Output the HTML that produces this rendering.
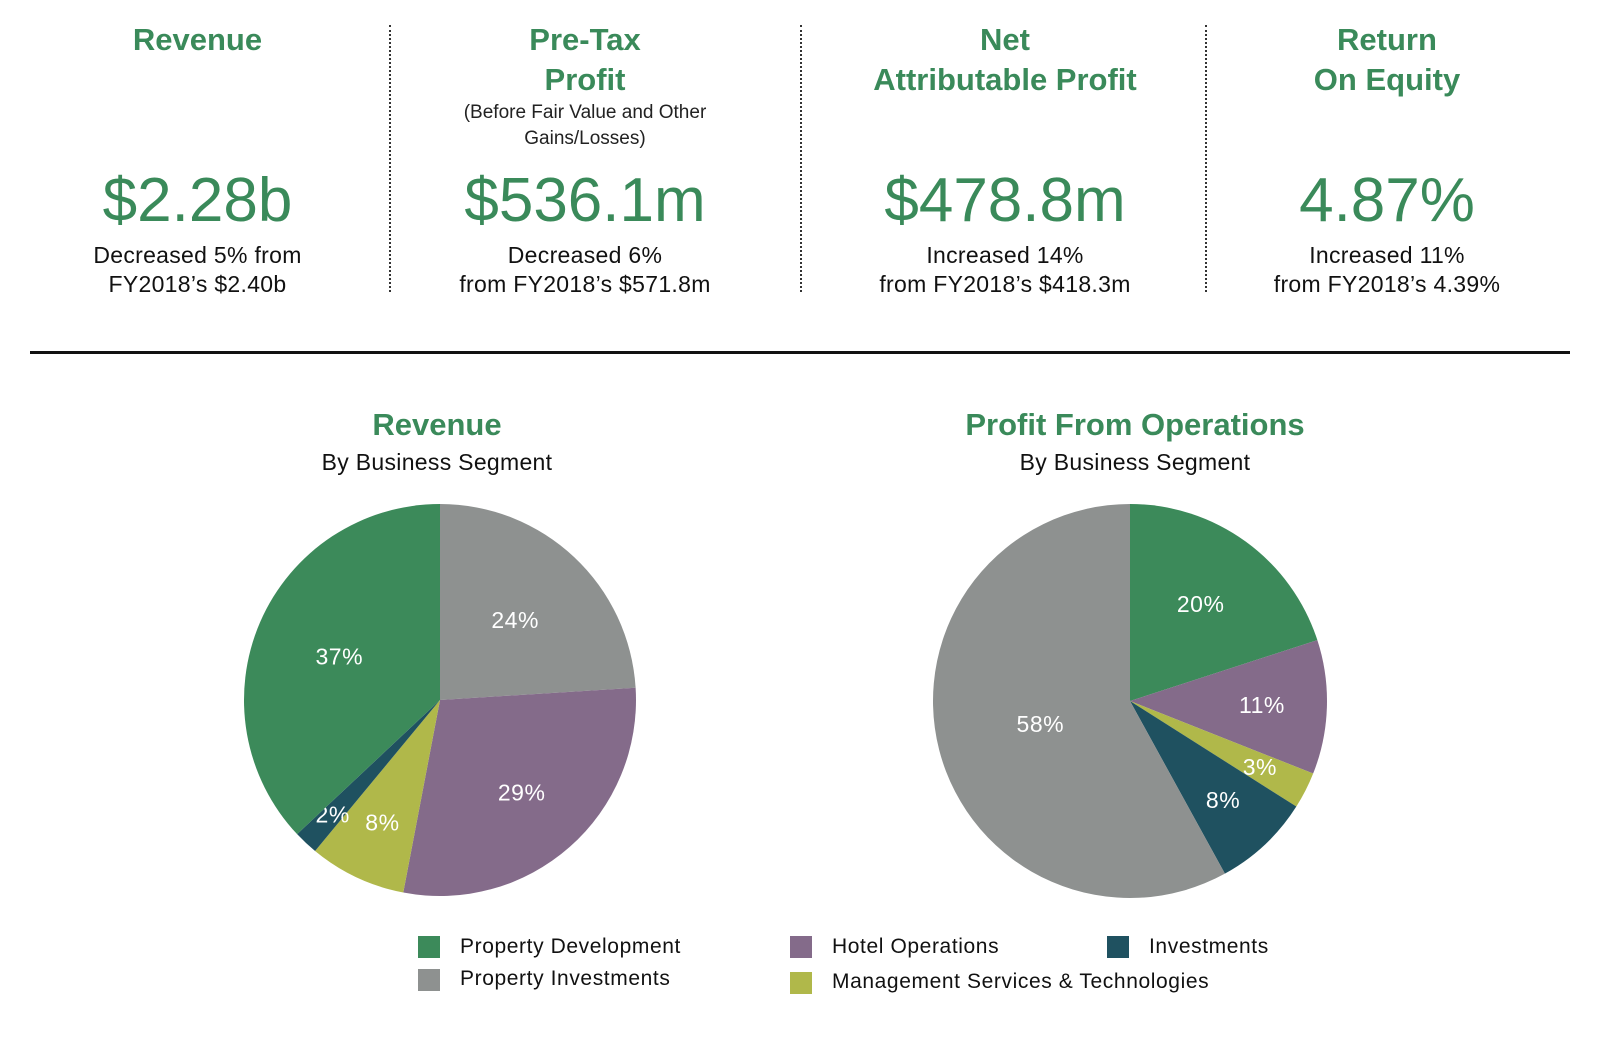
<!DOCTYPE html>
<html><head><meta charset="utf-8"><style>
body{margin:0;width:1600px;height:1039px;background:#fff;font-family:"Liberation Sans",sans-serif;position:relative;overflow:hidden}
.k{position:absolute;text-align:center;color:#3a8a5a}
.t{font-weight:bold;font-size:31px;line-height:40px}
.s{color:#222;font-size:19px;line-height:26px}
.v{font-size:62px;line-height:70px;position:absolute;left:0;right:0;top:146px}
.d{color:#111;font-size:23px;line-height:29px;position:absolute;left:0;right:0;top:221px;letter-spacing:.3px}
.sep{position:absolute;top:25px;height:267px;border-left:2px dotted #333}
.h{position:absolute;text-align:center;width:600px}
.leg{position:absolute;font-size:21px;color:#111;letter-spacing:.6px}
.sq{position:absolute;width:22px;height:22px}
</style></head><body>
<div class="k" style="left:0;width:395px;top:20px;height:280px"><div class="t">Revenue</div><div class="v">$2.28b</div><div class="d">Decreased 5% from<br>FY2018’s $2.40b</div></div>
<div class="k" style="left:385px;width:400px;top:20px;height:280px"><div class="t">Pre-Tax<br>Profit</div><div class="s">(Before Fair Value and Other<br>Gains/Losses)</div><div class="v">$536.1m</div><div class="d">Decreased 6%<br>from FY2018’s $571.8m</div></div>
<div class="k" style="left:805px;width:400px;top:20px;height:280px"><div class="t">Net<br>Attributable Profit</div><div class="v">$478.8m</div><div class="d">Increased 14%<br>from FY2018’s $418.3m</div></div>
<div class="k" style="left:1187px;width:400px;top:20px;height:280px"><div class="t">Return<br>On Equity</div><div class="v">4.87%</div><div class="d">Increased 11%<br>from FY2018’s 4.39%</div></div>
<div class="sep" style="left:389px"></div>
<div class="sep" style="left:800px"></div>
<div class="sep" style="left:1205px"></div>
<div style="position:absolute;left:30px;width:1540px;top:351px;border-top:3px solid #111"></div>
<div class="h" style="left:137px;top:405px"><div style="color:#3a8a5a;font-weight:bold;font-size:31px;line-height:40px">Revenue</div><div style="font-size:23px;color:#111;margin-top:4px;letter-spacing:.3px">By Business Segment</div></div>
<div class="h" style="left:835px;top:405px"><div style="color:#3a8a5a;font-weight:bold;font-size:31px;line-height:40px">Profit From Operations</div><div style="font-size:23px;color:#111;margin-top:4px;letter-spacing:.3px">By Business Segment</div></div>
<svg id="svg" width="1600" height="1039" style="position:absolute;left:0;top:0"></svg>
<div class="sq" style="left:418px;top:936px;background:#3c8a5a"></div><div class="leg" style="left:460px;top:935px">Property Development</div>
<div class="sq" style="left:418px;top:969px;background:#8e9190"></div><div class="leg" style="left:460px;top:967px">Property Investments</div>
<div class="sq" style="left:790px;top:936px;background:#846b8a"></div><div class="leg" style="left:832px;top:935px">Hotel Operations</div>
<div class="sq" style="left:790px;top:972px;background:#b0b84a"></div><div class="leg" style="left:832px;top:970px">Management Services &amp; Technologies</div>
<div class="sq" style="left:1107px;top:936px;background:#1f5160"></div><div class="leg" style="left:1149px;top:935px">Investments</div>
<script>
const segments=["Property Investments","Hotel Operations","Management Services","Investments","Property Development"];
const revenueValues=[24,29,8,2,37];
const profitSegments=["Property Development","Hotel Operations","Management Services","Investments","Property Investments"];
const profitValues=[20,11,3,8,58];
const colorMap={"Property Development":"#3c8a5a","Property Investments":"#8e9190","Hotel Operations":"#846b8a","Management Services":"#b0b84a","Investments":"#1f5160"};
const revLabelR=[0.56,0.63,0.69,0.8,0.56];
const profLabelR=[0.61,0.67,0.74,0.69,0.47];
const svg=document.getElementById('svg');
const NS='http://www.w3.org/2000/svg';
function pie(cx,cy,R,cats,vals,lr,name){
  const tot=vals.reduce((a,b)=>a+b,0);let acc=0;
  vals.forEach((v,i)=>{
    const a0=acc/tot*2*Math.PI;acc+=v;const a1=acc/tot*2*Math.PI;
    const x0=cx+R*Math.sin(a0),y0=cy-R*Math.cos(a0),x1=cx+R*Math.sin(a1),y1=cy-R*Math.cos(a1);
    const p=document.createElementNS(NS,'path');
    p.setAttribute('d',`M${cx},${cy}L${x0},${y0}A${R},${R} 0 ${a1-a0>Math.PI?1:0} 1 ${x1},${y1}Z`);
    p.setAttribute('fill',colorMap[cats[i]]);
    
    
    svg.appendChild(p);
    const am=(a0+a1)/2,r=R*lr[i];
    const t=document.createElementNS(NS,'text');
    t.setAttribute('x',cx+r*Math.sin(am));t.setAttribute('y',cy-r*Math.cos(am)+8);
    t.setAttribute('text-anchor','middle');t.setAttribute('fill','#fff');
    t.setAttribute('font-size','23');t.setAttribute('font-family','Liberation Sans, sans-serif');
    t.setAttribute('letter-spacing','0.5');
    t.textContent=v+'%';
    
    
    svg.appendChild(t);
  });
}
pie(440,700,196,segments,revenueValues,revLabelR,'revenue');
pie(1130,701,197,profitSegments,profitValues,profLabelR,'profit');
</script>
</body></html>
